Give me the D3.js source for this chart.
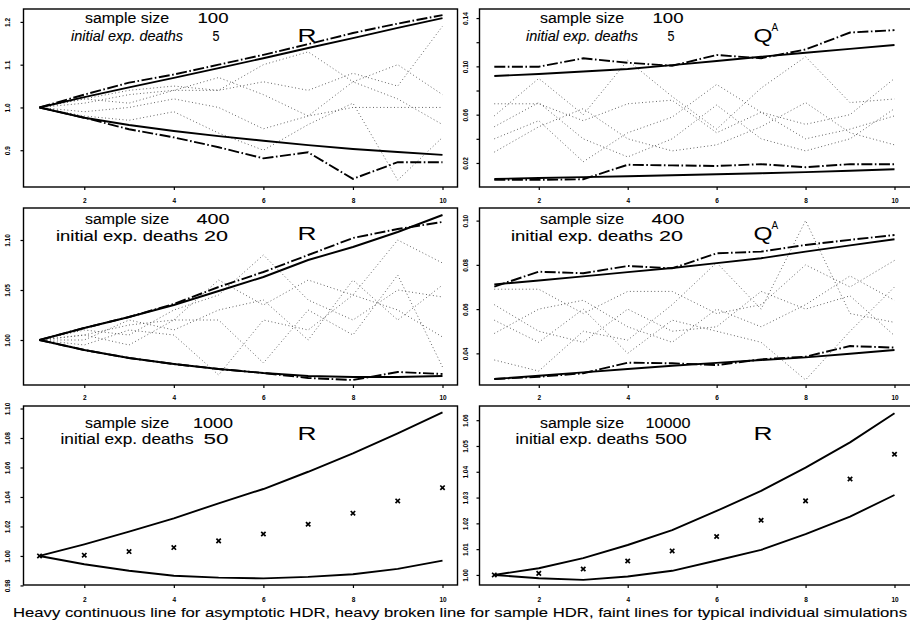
<!DOCTYPE html>
<html><head><meta charset="utf-8">
<script src="https://cdn.jsdelivr.net/npm/d3@7"></script>
<style>
body{margin:0;background:#fff}
svg{display:block}
text{font-family:"Liberation Sans",Arial,sans-serif;fill:#000}
</style></head><body>
<svg id="c" width="910" height="628"></svg>
<script>
// ---------------- DATA ----------------
const steps = [1,2,3,4,5,6,7,8,9,10];
const xTicks = [2,4,6,8,10];

const sampleSizes = ["100","100","400","400","1000","10000"];
const initialDeaths = ["5","5","20","20","50","500"];
const statNames = ["R","Q","R","Q","R","R"];
const statSup = ["","A","","A","",""];

// panel 1 : R, n=100
const p1AsymUpper = [1.000,1.024,1.047,1.069,1.092,1.115,1.139,1.162,1.186,1.209];
const p1AsymLower = [1.000,0.976,0.959,0.945,0.933,0.922,0.912,0.903,0.896,0.889];
const p1SampUpper = [1.000,1.030,1.058,1.077,1.100,1.123,1.148,1.174,1.196,1.216];
const p1SampLower = [1.000,0.976,0.949,0.930,0.907,0.881,0.895,0.833,0.872,0.872];
const p1Sims = [
  [1.00,1.02,1.04,1.05,1.04,1.06,1.04,1.08,1.05,1.19],
  [1.00,1.01,1.03,1.04,1.04,1.10,1.13,1.06,1.10,1.03],
  [1.00,0.99,1.00,1.02,1.00,0.95,0.98,1.00,1.00,1.00],
  [1.00,0.98,0.97,0.99,0.94,0.90,0.96,1.01,0.83,0.93],
  [1.00,1.02,1.01,1.04,1.07,1.03,0.98,1.06,1.02,0.96]
];
const p1Ticks = [0.9,1.0,1.1,1.2];
const p1TickLabels = ["0.9","1.0","1.1","1.2"];

// panel 2 : Q^A, n=100
const p2AsymUpper = [0.0920,0.0937,0.0957,0.0978,0.1010,0.1044,0.1080,0.1113,0.1145,0.1177];
const p2AsymLower = [0.0068,0.0075,0.0083,0.0090,0.0098,0.0106,0.0115,0.0124,0.0136,0.0148];
const p2SampUpper = [0.0997,0.0997,0.1067,0.1030,0.1005,0.1094,0.1067,0.1140,0.1280,0.1300];
const p2SampLower = [0.0060,0.0060,0.0065,0.0185,0.0180,0.0175,0.0190,0.0165,0.0190,0.0190];
const p2Sims = [
  [0.069,0.069,0.055,0.069,0.072,0.045,0.062,0.052,0.060,0.090],
  [0.059,0.090,0.060,0.105,0.075,0.048,0.082,0.108,0.070,0.073],
  [0.040,0.055,0.021,0.045,0.058,0.085,0.062,0.040,0.048,0.059],
  [0.029,0.050,0.065,0.040,0.030,0.035,0.050,0.070,0.045,0.035],
  [0.050,0.070,0.040,0.025,0.040,0.068,0.040,0.030,0.040,0.065]
];
const p2Ticks = [0.02,0.04,0.06,0.08,0.10,0.12,0.14];
const p2TickLabels = ["0.02","","0.06","","0.10","","0.14"];

// panel 3 : R, n=400
const p3AsymUpper = [1.000,1.012,1.023,1.035,1.049,1.063,1.080,1.093,1.108,1.125];
const p3AsymLower = [1.000,0.990,0.982,0.976,0.971,0.967,0.964,0.963,0.963,0.964];
const p3SampUpper = [1.000,1.012,1.023,1.036,1.053,1.068,1.085,1.102,1.111,1.118];
const p3SampLower = [1.000,0.990,0.982,0.976,0.971,0.967,0.962,0.960,0.968,0.966];
const p3Sims = [
  [1.000,1.005,1.015,1.020,1.060,1.035,1.060,1.045,1.100,1.077],
  [1.000,1.010,1.005,1.030,1.045,1.085,1.040,1.020,1.050,1.043],
  [1.000,0.995,1.010,1.005,0.965,1.020,1.010,1.045,1.030,1.003],
  [1.000,1.005,0.995,1.020,1.020,0.977,1.030,1.005,1.065,0.973],
  [1.000,1.000,1.020,1.010,1.030,1.040,1.000,1.060,1.020,1.055]
];
const p3Ticks = [1.00,1.05,1.10];
const p3TickLabels = ["1.00","1.05","1.10"];

// panel 4 : Q^A, n=400
const p4AsymUpper = [0.0712,0.0729,0.0748,0.0767,0.0786,0.0808,0.0830,0.0860,0.0888,0.0916];
const p4AsymLower = [0.0284,0.0299,0.0314,0.0329,0.0344,0.0357,0.0370,0.0382,0.0398,0.0415];
const p4SampUpper = [0.0702,0.0769,0.0762,0.0795,0.0784,0.0852,0.0860,0.0890,0.0913,0.0935];
const p4SampLower = [0.0284,0.0294,0.0310,0.0358,0.0355,0.0347,0.0373,0.0385,0.0433,0.0426];
const p4Sims = [
  [0.069,0.069,0.058,0.068,0.068,0.058,0.062,0.080,0.070,0.082],
  [0.049,0.060,0.064,0.052,0.045,0.060,0.052,0.062,0.075,0.064],
  [0.037,0.032,0.050,0.046,0.062,0.081,0.060,0.100,0.058,0.054],
  [0.055,0.045,0.060,0.040,0.055,0.050,0.045,0.028,0.050,0.070],
  [0.062,0.050,0.045,0.060,0.050,0.052,0.068,0.060,0.066,0.048]
];
const p4Ticks = [0.04,0.06,0.08,0.10];
const p4TickLabels = ["0.04","0.06","0.08","0.10"];

// panel 5 : R, n=1000
const p5AsymUpper = [1.0000,1.0079,1.0165,1.0255,1.0357,1.0454,1.0571,1.0696,1.0832,1.0974];
const p5AsymLower = [1.0000,0.9944,0.9900,0.9866,0.9853,0.9848,0.9858,0.9876,0.9912,0.9968];
const p5Means     = [1.0000,1.0005,1.0030,1.0057,1.0102,1.0149,1.0215,1.0290,1.0373,1.0463];
const p5Ticks = [0.98,1.00,1.02,1.04,1.06,1.08,1.10];
const p5TickLabels = ["0.98","1.00","1.02","1.04","1.06","1.08","1.10"];

// panel 6 : R, n=10000
const p6AsymUpper = [1.0000,1.0026,1.0065,1.0116,1.0174,1.0248,1.0326,1.0416,1.0514,1.0627];
const p6AsymLower = [1.0000,0.9987,0.9981,0.9994,1.0016,1.0056,1.0097,1.0158,1.0226,1.0310];
const p6Means     = [1.0000,1.0006,1.0023,1.0054,1.0093,1.0149,1.0212,1.0287,1.0372,1.0468];
const p6Ticks = [1.00,1.01,1.02,1.03,1.04,1.05,1.06];
const p6TickLabels = ["1.00","1.01","1.02","1.03","1.04","1.05","1.06"];

const caption = "Heavy continuous line for asymptotic HDR, heavy broken line for sample HDR, faint lines for typical individual simulations";

// ---------------- LAYOUT ----------------
const cols = [
  {left:23.5, right:457.5, x1:39.5, x10:442.5, yLab:-15.5, lab:127, num:213},
  {left:479.5, right:918, x1:494.3, x10:894.5, yLab:-14, lab:582, num:668}
];
const rows = [
  {top:9,   bottom:187, t1:13.5, t2:31.5, tR:32.5, xlab:201, w2:112, italic:true},
  {top:208, bottom:385, t1:16,   t2:32.7, tR:32,   xlab:398, w2:142, italic:false},
  {top:406, bottom:585, t1:22,   t2:37.5, tR:34,   xlab:600, w2:133, italic:false}
];
const yDomains = [[0.814,1.2302],[0.0001,0.1475],[0.955,1.132],[0.0257,0.1057],[0.9803,1.1017],[0.9961,1.0655]];
const numWidths1 = [31,31,33,33,40,45];
const numWidths2 = [7,7,24,24,25,32];

// ---------------- PANELS ----------------
const panels = [
  {asymU:p1AsymUpper, asymL:p1AsymLower, sampU:p1SampUpper, sampL:p1SampLower, sims:p1Sims, ticks:p1Ticks, labels:p1TickLabels},
  {asymU:p2AsymUpper, asymL:p2AsymLower, sampU:p2SampUpper, sampL:p2SampLower, sims:p2Sims, ticks:p2Ticks, labels:p2TickLabels},
  {asymU:p3AsymUpper, asymL:p3AsymLower, sampU:p3SampUpper, sampL:p3SampLower, sims:p3Sims, ticks:p3Ticks, labels:p3TickLabels},
  {asymU:p4AsymUpper, asymL:p4AsymLower, sampU:p4SampUpper, sampL:p4SampLower, sims:p4Sims, ticks:p4Ticks, labels:p4TickLabels},
  {asymU:p5AsymUpper, asymL:p5AsymLower, means:p5Means, sims:[], ticks:p5Ticks, labels:p5TickLabels},
  {asymU:p6AsymUpper, asymL:p6AsymLower, means:p6Means, sims:[], ticks:p6Ticks, labels:p6TickLabels}
];

const svg = d3.select("#c");

function stretched(sel, cx, y, w, str) {
  return sel.append("text").attr("x", cx - w / 2).attr("y", y)
    .attr("textLength", w).attr("lengthAdjust", "spacingAndGlyphs").text(str);
}

panels.forEach((p, i) => {
  const col = cols[i % 2], row = rows[Math.floor(i / 2)];
  const x = d3.scaleLinear().domain([1, 10]).range([col.x1, col.x10]);
  const y = d3.scaleLinear().domain(yDomains[i]).range([row.bottom, row.top]);
  const g = svg.append("g");
  const line = d3.line().x((d, k) => x(steps[k])).y(d => y(d));

  // simulations (faint dotted)
  g.selectAll("path.sim").data(p.sims).join("path")
    .attr("class", "sim")
    .attr("d", line)
    .attr("fill", "none").attr("stroke", "#555").attr("stroke-width", 1)
    .attr("stroke-dasharray", "0.9,2.6");

  // asymptotic HDR (heavy continuous)
  [p.asymU, p.asymL].forEach(s => {
    g.append("path").attr("d", line(s)).attr("fill", "none")
      .attr("stroke", "#000").attr("stroke-width", 1.9).attr("stroke-linejoin", "round");
  });
  // sample HDR (heavy broken)
  if (p.sampU) {
    [p.sampU, p.sampL].forEach(s => {
      g.append("path").attr("d", line(s)).attr("fill", "none")
        .attr("stroke", "#000").attr("stroke-width", 1.9)
        .attr("stroke-dasharray", "11,2.5,1.6,2.5");
    });
  }
  // means as x markers
  if (p.means) {
    const m = g.selectAll("g.mk").data(p.means).join("g").attr("class", "mk")
      .attr("transform", (d, k) => `translate(${x(steps[k])},${y(d)})`);
    m.append("path").attr("d", "M-2.2,-2.2L2.2,2.2M-2.2,2.2L2.2,-2.2")
      .attr("stroke", "#000").attr("stroke-width", 1.7);
  }

  // box
  g.append("rect").attr("x", col.left).attr("y", row.top)
    .attr("width", col.right - col.left).attr("height", row.bottom - row.top)
    .attr("fill", "none").attr("stroke", "#000").attr("stroke-width", 1.4);

  // x axis
  const xa = g.append("g").attr("transform", `translate(0,${row.bottom})`)
    .call(d3.axisBottom(x).tickValues(xTicks).tickSize(3).tickSizeOuter(0));
  xa.select(".domain").remove();
  xa.selectAll("line").attr("stroke-width", 1.2);
  xa.selectAll("text").attr("y", row.xlab - row.bottom).attr("dy", "0.35em")
    .attr("font-size", 6.5).attr("font-weight", "bold")
    .attr("font-family", "Liberation Sans, Arial, sans-serif");

  // y axis
  const ya = g.append("g").attr("transform", `translate(${col.left},0)`)
    .call(d3.axisLeft(y).tickValues(p.ticks).tickSize(3).tickSizeOuter(0)
      .tickFormat((d, k) => p.labels[k]));
  ya.select(".domain").remove();
  ya.selectAll("line").attr("stroke-width", 1.2);
  ya.selectAll("text").attr("x", null).attr("dy", "0.35em")
    .attr("text-anchor", "middle")
    .attr("transform", `translate(${col.yLab},0) rotate(-90)`)
    .attr("font-size", 6.5).attr("font-weight", "bold")
    .attr("font-family", "Liberation Sans, Arial, sans-serif");

  // annotation text
  const t = g.append("g").attr("font-size", 14).attr("stroke", "#000").attr("stroke-width", 0.1);
  stretched(t, col.lab, row.top + row.t1, 84, "sample size");
  stretched(t, col.lab, row.top + row.t2, row.w2, "initial exp. deaths")
    .attr("font-style", row.italic ? "italic" : "normal");
  stretched(t, col.num, row.top + row.t1, numWidths1[i], sampleSizes[i]);
  stretched(t, col.num + 3, row.top + row.t2, numWidths2[i], initialDeaths[i]);

  g.append("text").attr("x", col.left + 274).attr("y", row.top + row.tR)
    .attr("font-size", 19).attr("textLength", 19).attr("lengthAdjust", "spacingAndGlyphs")
    .text(statNames[i]);
  if (statSup[i]) {
    g.append("text").attr("x", col.left + 292).attr("y", row.top + row.tR - 11)
      .attr("font-size", 10).text(statSup[i]);
  }
});

svg.append("text").attr("x", 13).attr("y", 617).attr("font-size", 13.5)
  .attr("stroke", "#000").attr("stroke-width", 0.1)
  .attr("textLength", 894).attr("lengthAdjust", "spacingAndGlyphs").text(caption);
</script>
</body></html>
